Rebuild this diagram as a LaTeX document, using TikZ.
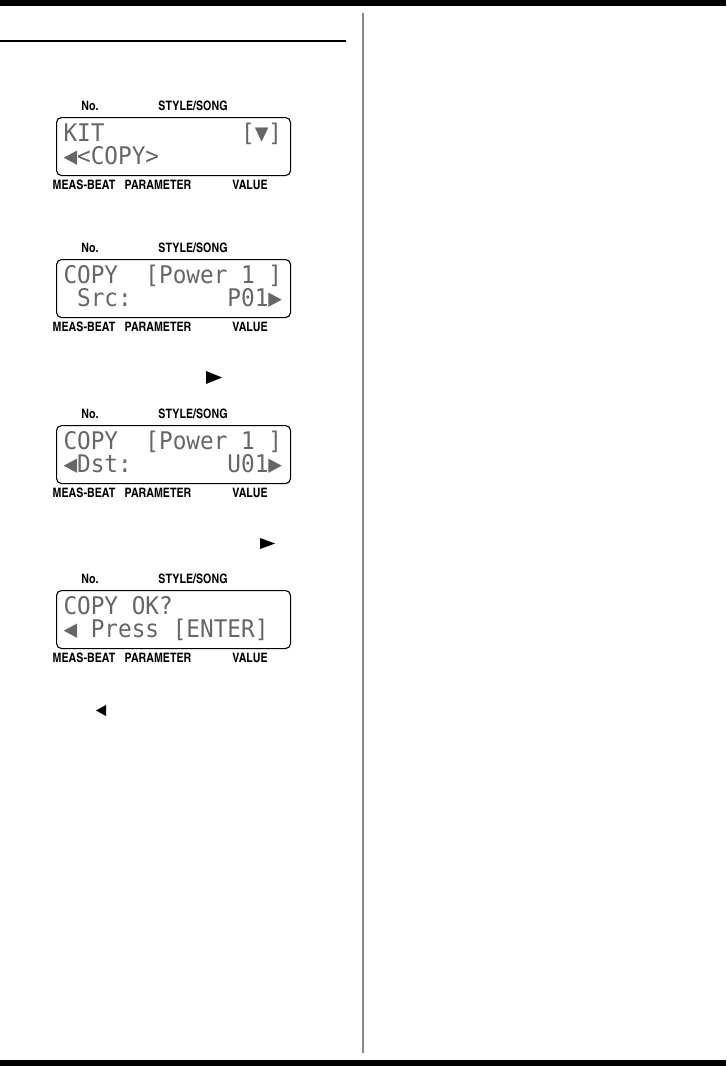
\documentclass[tikz,border=0pt]{standalone}
\usepackage{fontspec}
\usepackage{graphicx}
\usetikzlibrary{positioning}
\newfontfamily\lcdfont{DejaVu Sans Mono}
\newfontfamily\tagfont{texgyreheroscn-bold.otf}
\definecolor{rulegray}{HTML}{888888}
\newcommand{\lcdrow}[1]{\scalebox{1}[1.07]{\lcdfont\fontsize{22.7}{24}\selectfont #1}}

\begin{document}
\begin{tikzpicture}[x=1pt,y=-1pt,node distance=5pt]
  \tikzstyle{lcd}=[draw=black,line width=1.1pt,rounded corners=5pt,minimum width=234pt,minimum height=58pt,inner sep=0pt,anchor=north west]
  \tikzstyle{tag}=[font=\tagfont\fontsize{13}{13}\selectfont,inner sep=0pt]
  \tikzstyle{row}=[anchor=base west,inner sep=0pt,text=black!60,text height=17pt,text depth=1pt]

  \useasboundingbox (0,0) rectangle (726,1066);

  % page frame
  \fill (0,0) rectangle (726,6);
  \fill (0,1060) rectangle (726,1066);
  \fill (0,40) rectangle (346,42);
  \fill[rulegray] (362,13) rectangle (364,1053);

  % screen 1
  \node[lcd] (lcd1) at (56,117) {};
  \node[tag,above=6pt of lcd1.north west,xshift=34pt] (no1) {No.};
  \node[tag,above=6pt of lcd1.north west,xshift=137pt] (song1) {STYLE/SONG};
  \node[tag,below=4pt of lcd1.south west,xshift=28pt] (meas1) {MEAS-BEAT};
  \node[tag,below=4pt of lcd1.south west,xshift=102pt] (param1) {PARAMETER};
  \node[tag,below=4pt of lcd1.south west,xshift=194pt] (value1) {VALUE};
  \node[row] (top1) at ([xshift=7.3pt,yshift=-24pt]lcd1.north west) {\lcdrow{KIT~~~~~~~~~~[▼]}};
  \node[row] (bot1) at ([xshift=7.3pt,yshift=-47pt]lcd1.north west) {\lcdrow{◀<COPY>}};

  % screen 2
  \node[lcd] (lcd2) at (56,259) {};
  \node[tag,above=6pt of lcd2.north west,xshift=34pt] (no2) {No.};
  \node[tag,above=6pt of lcd2.north west,xshift=137pt] (song2) {STYLE/SONG};
  \node[tag,below=4pt of lcd2.south west,xshift=28pt] (meas2) {MEAS-BEAT};
  \node[tag,below=4pt of lcd2.south west,xshift=102pt] (param2) {PARAMETER};
  \node[tag,below=4pt of lcd2.south west,xshift=194pt] (value2) {VALUE};
  \node[row] (top2) at ([xshift=7.3pt,yshift=-24pt]lcd2.north west) {\lcdrow{COPY~~[Power~1~]}};
  \node[row] (bot2) at ([xshift=7.3pt,yshift=-47pt]lcd2.north west) {\lcdrow{~Src:~~~~~~~P01▶}};

  % arrow before screen 3
  \fill (206,371) -- (222,377.5) -- (206,384) -- cycle;

  % screen 3
  \node[lcd] (lcd3) at (56,425) {};
  \node[tag,above=6pt of lcd3.north west,xshift=34pt] (no3) {No.};
  \node[tag,above=6pt of lcd3.north west,xshift=137pt] (song3) {STYLE/SONG};
  \node[tag,below=4pt of lcd3.south west,xshift=28pt] (meas3) {MEAS-BEAT};
  \node[tag,below=4pt of lcd3.south west,xshift=102pt] (param3) {PARAMETER};
  \node[tag,below=4pt of lcd3.south west,xshift=194pt] (value3) {VALUE};
  \node[row] (top3) at ([xshift=7.3pt,yshift=-24pt]lcd3.north west) {\lcdrow{COPY~~[Power~1~]}};
  \node[row] (bot3) at ([xshift=7.3pt,yshift=-47pt]lcd3.north west) {\lcdrow{◀Dst:~~~~~~~U01▶}};

  % arrow before screen 4
  \fill (260,538) -- (275,543.5) -- (260,549) -- cycle;

  % screen 4
  \node[lcd] (lcd4) at (56,590) {};
  \node[tag,above=6pt of lcd4.north west,xshift=34pt] (no4) {No.};
  \node[tag,above=6pt of lcd4.north west,xshift=137pt] (song4) {STYLE/SONG};
  \node[tag,below=4pt of lcd4.south west,xshift=28pt] (meas4) {MEAS-BEAT};
  \node[tag,below=4pt of lcd4.south west,xshift=102pt] (param4) {PARAMETER};
  \node[tag,below=4pt of lcd4.south west,xshift=194pt] (value4) {VALUE};
  \node[row] (top4) at ([xshift=7.3pt,yshift=-24pt]lcd4.north west) {\lcdrow{COPY~OK?}};
  \node[row] (bot4) at ([xshift=7.3pt,yshift=-47pt]lcd4.north west) {\lcdrow{◀~Press~[ENTER]}};

  % arrow at the end
  \fill (106,705) -- (96,710.5) -- (106,716) -- cycle;
\end{tikzpicture}
\end{document}
